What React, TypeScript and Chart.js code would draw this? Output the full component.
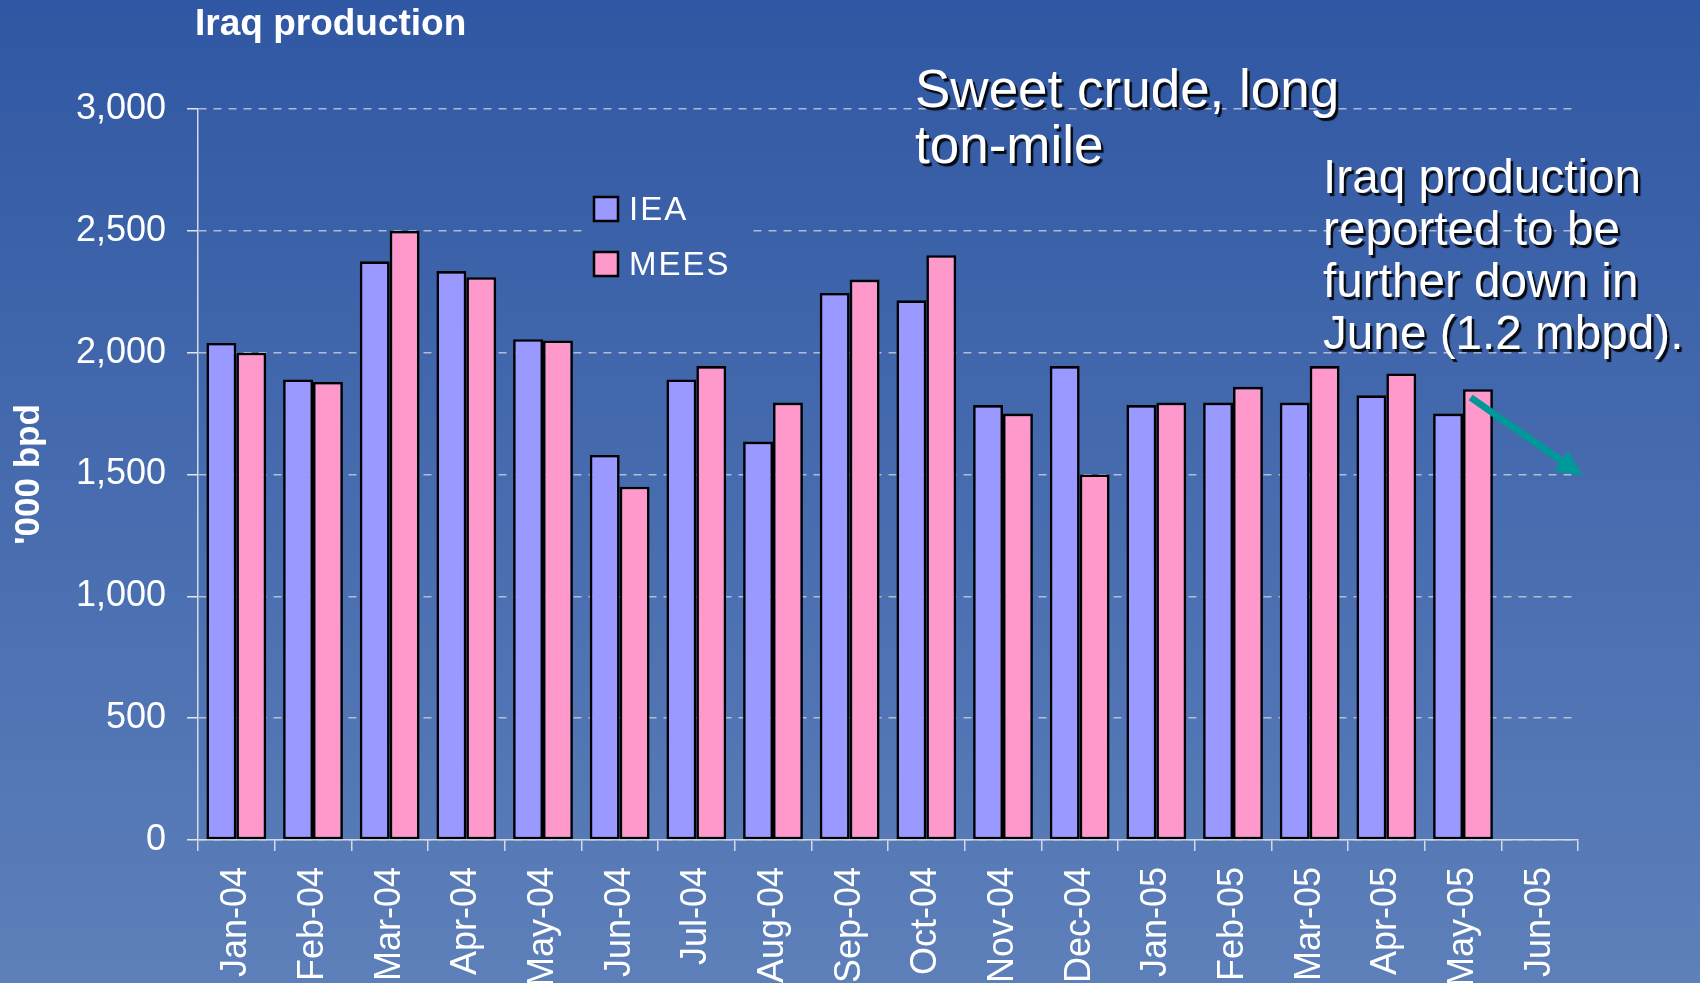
import { useEffect, useRef } from "react";
import { Chart, registerables } from "chart.js";

Chart.register(...registerables);

const categories = [
  "Jan-04", "Feb-04", "Mar-04", "Apr-04", "May-04", "Jun-04", "Jul-04", "Aug-04", "Sep-04",
  "Oct-04", "Nov-04", "Dec-04", "Jan-05", "Feb-05", "Mar-05", "Apr-05", "May-05", "Jun-05",
];
const ieaValues = [2040, 1890, 2375, 2335, 2055, 1580, 1890, 1635, 2245, 2215, 1785, 1945, 1785, 1795, 1795, 1825, 1750, null];
const meesValues = [2000, 1880, 2500, 2310, 2050, 1450, 1945, 1795, 2300, 2400, 1750, 1500, 1795, 1860, 1945, 1915, 1850, null];
const seriesNames = ["IEA", "MEES"];
const seriesColors = ["#9999FF", "#FF99CC"];
const yMin = 0;
const yMax = 3000;
const yStep = 500;
const chartTitle = "Iraq production";
const yAxisTitle = "'000 bpd";
const noteTop = ["Sweet crude, long", "ton-mile"];
const noteRight = ["Iraq production", "reported to be", "further down in", "June (1.2 mbpd)."];
// arrow annotation in data space: [category index, value]
const arrowFrom = [16.1, 1816];
const arrowTo = [17.56, 1495];

const FONT = "'Liberation Sans', Arial, sans-serif";
const W = 1700;
const H = 983;

function makeBg(ctx: CanvasRenderingContext2D) {
  const g = ctx.createLinearGradient(0, 0, 0, H);
  g.addColorStop(0, "#3057A3");
  g.addColorStop(1, "#5D80BA");
  return g;
}

const decorPlugin = {
  id: "decor",
  beforeDraw(chart: any) {
    const ctx = chart.ctx as CanvasRenderingContext2D;
    ctx.save();
    ctx.fillStyle = makeBg(ctx);
    ctx.fillRect(0, 0, chart.width, chart.height);
    ctx.restore();
  },
  afterDraw(chart: any) {
    const ctx = chart.ctx as CanvasRenderingContext2D;
    const xs = chart.scales.x;
    const ys = chart.scales.y;

    // Title
    ctx.save();
    ctx.fillStyle = "#FFFFFF";
    ctx.font = `bold 37px ${FONT}`;
    ctx.textBaseline = "alphabetic";
    ctx.textAlign = "left";
    ctx.fillText(chartTitle, 195, 35);
    ctx.restore();

    // Legend
    ctx.save();
    ctx.fillStyle = makeBg(ctx);
    ctx.fillRect(585, 185, 165, 100);
    const legendRows = [197, 252];
    seriesNames.forEach((name, i) => {
      const y = legendRows[i];
      ctx.fillStyle = seriesColors[i];
      ctx.fillRect(594, y, 24, 24);
      ctx.strokeStyle = "#000000";
      ctx.lineWidth = 2.5;
      ctx.strokeRect(594, y, 24, 24);
      ctx.fillStyle = "#FFFFFF";
      ctx.font = `33px ${FONT}`;
      (ctx as any).letterSpacing = "2px";
      ctx.textBaseline = "alphabetic";
      ctx.textAlign = "left";
      ctx.fillText(name, 629, y + 23);
    });
    ctx.restore();

    // Notes with shadow
    ctx.save();
    ctx.fillStyle = "#FFFFFF";
    ctx.shadowColor = "rgba(0,0,0,0.9)";
    ctx.shadowOffsetX = 2.5;
    ctx.shadowOffsetY = 2.5;
    ctx.shadowBlur = 1;
    ctx.textAlign = "left";
    ctx.textBaseline = "alphabetic";
    ctx.font = `53px ${FONT}`;
    noteTop.forEach((line, i) => ctx.fillText(line, 915, 107 + i * 56));
    ctx.font = `47.7px ${FONT}`;
    noteRight.forEach((line, i) => ctx.fillText(line, 1323, 193 + i * 52));
    ctx.restore();

    // Arrow
    const x1 = xs.getPixelForValue(arrowFrom[0]);
    const y1 = ys.getPixelForValue(arrowFrom[1]);
    const x2 = xs.getPixelForValue(arrowTo[0]);
    const y2 = ys.getPixelForValue(arrowTo[1]);
    const dx = x2 - x1;
    const dy = y2 - y1;
    const len = Math.hypot(dx, dy);
    const ux = dx / len;
    const uy = dy / len;
    const headLen = 26;
    const headHalf = 12;
    const bx = x2 - ux * headLen;
    const by = y2 - uy * headLen;
    ctx.save();
    ctx.strokeStyle = "#009999";
    ctx.fillStyle = "#009999";
    ctx.lineWidth = 7;
    ctx.beginPath();
    ctx.moveTo(x1, y1);
    ctx.lineTo(bx + ux * 2, by + uy * 2);
    ctx.stroke();
    ctx.beginPath();
    ctx.moveTo(x2, y2);
    ctx.lineTo(bx - uy * headHalf, by + ux * headHalf);
    ctx.lineTo(bx + uy * headHalf, by - ux * headHalf);
    ctx.closePath();
    ctx.fill();
    ctx.restore();
  },
};

export default function App() {
  const ref = useRef<HTMLCanvasElement | null>(null);

  useEffect(() => {
    if (!ref.current) return;
    const chart = new Chart(ref.current, {
      type: "bar",
      data: {
        labels: categories,
        datasets: [
          {
            label: seriesNames[0],
            data: ieaValues,
            backgroundColor: seriesColors[0],
            borderColor: "#000000",
            borderWidth: 2.6,
            borderSkipped: false,
            categoryPercentage: 0.78,
            barPercentage: 1,
          },
          {
            label: seriesNames[1],
            data: meesValues,
            backgroundColor: seriesColors[1],
            borderColor: "#000000",
            borderWidth: 2.6,
            borderSkipped: false,
            categoryPercentage: 0.78,
            barPercentage: 1,
          },
        ],
      },
      options: {
        animation: false,
        responsive: false,
        maintainAspectRatio: false,
        devicePixelRatio: 1,
        layout: { padding: { top: 109, right: 122, left: 0, bottom: 0 } },
        plugins: {
          legend: { display: false },
          title: { display: false },
          tooltip: { enabled: false },
        },
        scales: {
          x: {
            offset: true,
            grid: {
              offset: true,
              drawOnChartArea: false,
              drawTicks: true,
              tickLength: 11,
              color: "#D3D9E6",
              lineWidth: 1.5,
            },
            border: { display: true, color: "#D3D9E6", width: 1.5 },
            ticks: {
              color: "#FFFFFF",
              font: { family: FONT, size: 36 },
              minRotation: 90,
              maxRotation: 90,
              autoSkip: false,
              padding: 16,
            },
            afterFit(scale: any) {
              scale.height = 143;
            },
          },
          y: {
            min: yMin,
            max: yMax,
            grid: {
              color: "rgba(205,210,220,0.8)",
              lineWidth: 1.5,
              tickLength: 11,
              tickColor: "#E2E6EE",
              tickBorderDash: [],
            },
            border: { display: true, color: "#D3D9E6", width: 1.5, dash: [8, 7] },
            ticks: {
              stepSize: yStep,
              color: "#FFFFFF",
              font: { family: FONT, size: 36 },
              padding: 21,
              callback: (v: any) => Number(v).toLocaleString("en-US"),
            },
            title: {
              display: true,
              text: yAxisTitle,
              color: "#FFFFFF",
              font: { family: FONT, size: 35, weight: "bold" },
              padding: { top: 8, bottom: 0 },
            },
            afterFit(scale: any) {
              scale.width = 198;
            },
          },
        },
      },
      plugins: [decorPlugin],
    });
    return () => chart.destroy();
  }, []);

  return (
    <div style={{ position: "fixed", left: 0, top: 0, width: W, height: H, overflow: "hidden" }}>
      <canvas ref={ref} width={W} height={H} style={{ display: "block", width: W, height: H }} />
    </div>
  );
}
